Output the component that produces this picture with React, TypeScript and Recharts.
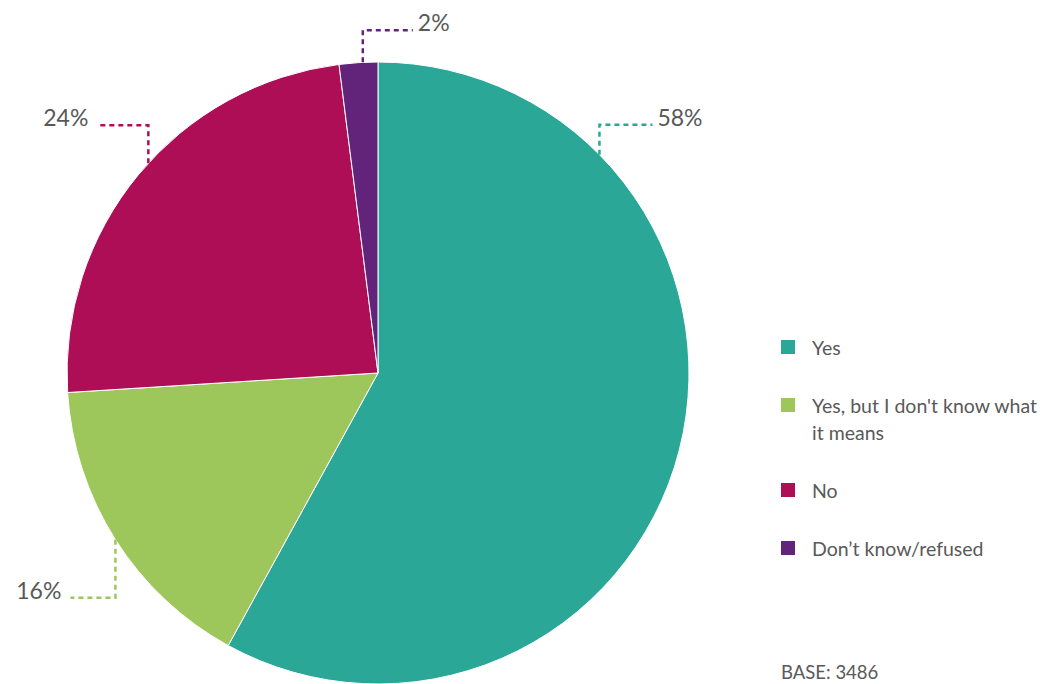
import React from "react";
import { PieChart, Pie, Cell, Legend } from "recharts";

const categories: string[] = [
  "Yes",
  "Yes, but I don't know what it means",
  "No",
  "Don\u2019t know/refused",
];
const values: number[] = [58, 16, 24, 2];
const colors: string[] = ["#2AA796", "#9DC75A", "#AE0E56", "#62247A"];
const baseLabel = "BASE: 3486";

const data = categories.map((name, i) => ({ name, value: values[i] }));

// leader-line layout (style/position only)
const labelLayout = [
  { angle: 44.6, rise: -30, run: 53 },
  { angle: null as number | null, rise: 58, run: -45 },
  { angle: 137.6, rise: -38, run: -51 },
  { angle: 92.8, rise: -32, run: 50 },
];

const TEXT = "#595959";
const FONT = "Lato, 'Open Sans', sans-serif";

const renderLabel = (props: any) => {
  const { cx, cy, outerRadius, midAngle, index, value } = props;
  const lay = labelLayout[index];
  const ang = ((lay.angle ?? midAngle) * Math.PI) / 180;
  const x0 = cx + outerRadius * Math.cos(ang);
  const y0 = cy - outerRadius * Math.sin(ang);
  const y1 = y0 + lay.rise;
  const x1 = x0 + lay.run;
  const right = lay.run > 0;
  const tx = right ? x1 + 5 : x1 - 9;
  return (
    <g key={`lbl-${index}`}>
      <polyline
        points={`${x0},${y0} ${x0},${y1} ${x1},${y1}`}
        fill="none"
        stroke={colors[index]}
        strokeWidth={2.5}
        strokeDasharray="5 4"
      />
      <text
        x={tx}
        y={y1 + 1}
        textAnchor={right ? "start" : "end"}
        fill={TEXT}
        fontSize={23}
        fontFamily={FONT}
      >
        {`${value}%`}
      </text>
    </g>
  );
};

const renderLegend = (props: any) => {
  const payload = [...(props.payload || [])].sort(
    (a: any, b: any) => categories.indexOf(a.value) - categories.indexOf(b.value)
  );
  return (
    <div style={{ fontFamily: FONT, fontSize: 19.5, color: TEXT }}>
      {payload.map((entry: any, i: number) => (
        <div
          key={`leg-${i}`}
          style={{
            display: "flex",
            alignItems: "flex-start",
            lineHeight: "27px",
            marginBottom: 31,
          }}
        >
          <div
            style={{
              width: 14,
              height: 14,
              marginTop: 6.5,
              background: entry.color,
              flex: "0 0 14px",
            }}
          />
          <div style={{ marginLeft: 17, width: 232, whiteSpace: "normal" }}>{entry.value}</div>
        </div>
      ))}
    </div>
  );
};

export default function App() {
  return (
    <div
      style={{
        position: "absolute",
        left: 0,
        top: 0,
        width: 1061,
        height: 684,
        background: "#fff",
        overflow: "hidden",
      }}
    >
      <PieChart width={1061} height={684} margin={{ top: 0, right: 0, bottom: 0, left: 0 }}>
        <Pie
          data={data}
          dataKey="value"
          nameKey="name"
          cx={378}
          cy={373}
          outerRadius={311}
          startAngle={90}
          endAngle={-270}
          stroke="#ffffff"
          strokeWidth={1}
          label={renderLabel}
          labelLine={false}
          isAnimationActive={false}
        >
          {data.map((d, i) => (
            <Cell key={d.name} fill={colors[i]} />
          ))}
        </Pie>
        <Legend
          layout="vertical"
          content={renderLegend}
          wrapperStyle={{ position: "absolute", left: 781, top: 333.5, width: 280 }}
        />
      </PieChart>
      <div
        style={{
          position: "absolute",
          left: 781,
          top: 662,
          fontFamily: FONT,
          fontSize: 18.5,
          color: TEXT,
          lineHeight: "20px",
        }}
      >
        {baseLabel}
      </div>
    </div>
  );
}
